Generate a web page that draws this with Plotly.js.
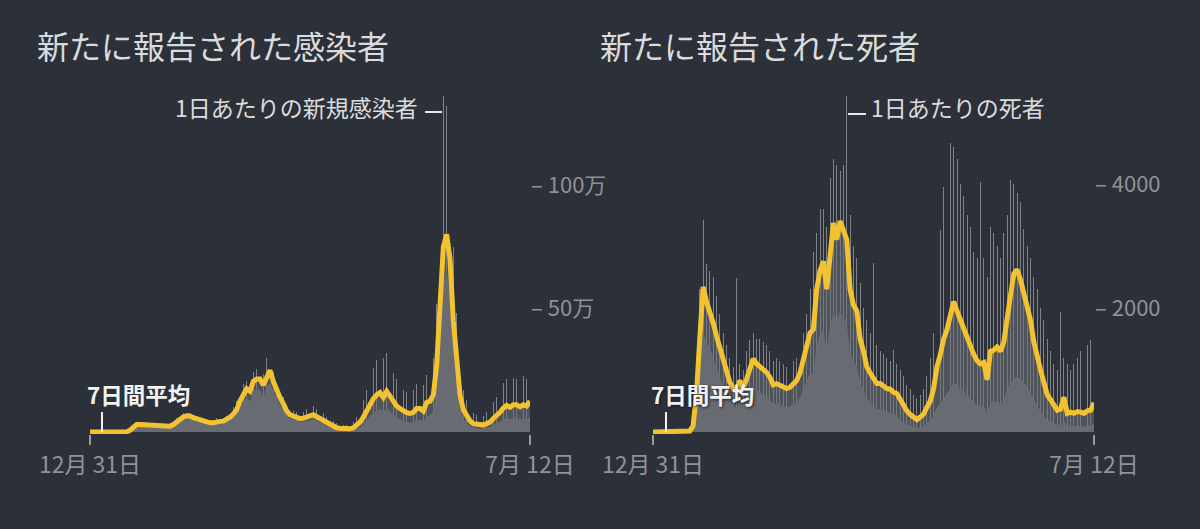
<!DOCTYPE html>
<html><head><meta charset="utf-8">
<script src="https://cdn.plot.ly/plotly-3.0.1.min.js"></script>
<style>html,body{margin:0;padding:0;background:#2c3038;}#chart{width:1200px;height:529px;}</style>
</head><body><div id="chart"></div>
<script>
// ---- data (weekly samples starting 2019-12-31, one value per week) ----
const startDate = '2019-12-31';
const endDate = '2022-07-12';
const xTickLabels = ['12月 31日', '7月 12日'];
const casesTickVals = [500, 1000];          // thousands of cases
const casesTickText = ['– 50万', '– 100万'];
const deathsTickVals = [2000, 4000];
const deathsTickText = ['– 2000', '– 4000'];

// new cases, 7-day average (thousands)
const casesAvg = [
  0,0,0,0,0,0,0,0,0,0.02,
  0.1,1,7,21,30,30,29,29,27,24,
  23,21,21,21,23,30,41,52,61,66,
  65,58,54,47,42,41,37,37,42,43,
  44,50,60,73,90,125,155,175,165,205,
  215,215,190,225,250,205,170,140,115,85,
  70,65,57,54,56,63,65,70,63,55,
  48,37,30,25,17,15,13,12,13,17,
  26,40,60,85,115,135,150,160,140,165,
  145,120,105,95,85,78,75,80,95,95,
  85,120,125,150,270,480,750,800,700,450,
  280,150,90,65,45,34,30,30,28,33,
  40,55,65,80,97,108,100,110,110,102,
  110,105,125
];
// new cases, daily spike tops (thousands)
const casesHigh = [
  0,0,0,0,0,0,0,0,0,0.1,
  0.3,2,11,30,36,37,38,36,33,30,
  29,27,26,27,31,42,55,65,77,78,
  74,68,64,56,52,50,47,48,55,55,
  58,66,80,100,125,160,195,205,210,245,
  255,250,235,300,310,245,200,165,140,110,
  90,85,80,78,82,95,100,105,95,85,
  75,60,50,45,35,32,30,28,30,40,
  60,90,130,170,230,260,290,310,300,320,
  280,240,215,200,170,160,165,170,195,200,
  190,230,240,300,520,1020,1360,1320,1020,750,
  480,280,170,130,95,75,70,70,65,80,
  95,120,140,170,200,215,205,220,215,210,
  225,215,230
];
// new cases, dense lower level of daily bars (thousands)
const casesLow = [
  0,0,0,0,0,0,0,0,0,0,
  0.05,0.8,5,17,25,25,24,24,22,20,
  19,17,17,17,19,25,34,43,51,55,
  54,48,44,38,34,33,29,30,34,35,
  36,41,49,60,74,100,125,140,125,165,
  175,170,140,180,200,160,135,110,90,65,
  55,50,44,41,42,46,48,52,46,40,
  34,26,20,16,10,9,7,6,6,8,
  12,20,32,48,65,78,88,95,80,100,
  85,70,60,52,45,40,38,42,50,50,
  42,65,68,85,180,360,600,650,550,330,
  190,95,52,36,24,17,15,15,14,17,
  21,29,34,42,52,58,52,58,57,52,
  56,52,62
];
// deaths, 7-day average
const deathsAvg = [
  0,0,0,0,0,0,0,0,0,1,
  3,15,100,600,1500,2340,2100,1950,1760,1550,
  1350,1150,950,800,700,650,830,700,850,1050,
  1180,1100,1060,1000,960,880,760,780,760,720,
  700,720,770,830,950,1150,1350,1600,1650,2300,
  2600,2750,2300,2900,3370,3100,3400,3250,3100,2300,
  2050,1950,1500,1300,1050,950,880,780,780,730,
  700,690,640,620,520,400,340,280,230,200,
  240,290,400,500,700,1050,1250,1500,1650,1900,
  2100,1950,1800,1700,1550,1400,1250,1150,1100,1120,
  840,1300,1320,1370,1300,1450,1900,2200,2550,2620,
  2450,2250,2000,1800,1450,1200,1000,800,600,520,
  420,350,370,560,300,320,300,330,320,300,
  340,350,470
];
// deaths, daily spike tops
const deathsHigh = [
  0,0,0,0,0,0,0,0,0,3,
  10,40,250,1200,2300,3420,2700,2600,2500,2200,
  1900,1600,1400,1200,1050,2480,1100,1000,1300,1480,
  1600,1500,1500,1450,1400,1300,1150,1200,1150,1100,
  1050,1100,1150,1200,1350,1600,1900,2300,2900,3200,
  3600,3600,3300,4100,4400,4300,4200,4300,5420,3500,
  3000,2800,2400,2000,1800,1600,2720,1400,1300,1250,
  1200,1150,1320,1100,1000,900,750,700,600,550,
  600,700,900,1200,1600,2300,3260,3950,3700,4660,
  4600,4400,4000,3800,3500,3300,2900,2800,4030,2800,
  2500,3300,3200,3000,2800,3200,3500,4060,4000,3850,
  3700,3270,3000,2800,2500,2300,2000,1800,1500,1300,
  1100,1000,1940,1200,1100,1000,1100,1200,1300,1200,
  1400,1480,1300
];
// deaths, dense lower level of daily bars
const deathsLow = [
  0,0,0,0,0,0,0,0,0,0,
  1,8,60,420,1050,1600,1450,1350,1200,1050,
  900,750,600,500,430,400,480,420,520,650,
  740,680,650,610,580,520,440,460,450,420,
  400,420,450,490,560,690,800,950,950,1400,
  1600,1650,1300,1700,1950,1800,1950,1850,1750,1300,
  1150,1050,800,680,540,480,430,380,370,340,
  320,310,280,260,200,150,120,100,80,70,
  80,100,140,190,280,400,460,540,600,700,
  800,760,700,660,600,540,480,440,420,420,
  300,480,480,500,460,520,700,800,850,900,
  850,800,720,640,520,420,340,260,200,170,
  140,110,120,180,90,100,90,100,95,90,
  100,100,140
];

// ---- build ----
function weekDates(n) {
  const t0 = Date.parse(startDate + 'T00:00:00Z');
  const out = [];
  for (let i = 0; i < n; i++) out.push(new Date(t0 + i * 7 * 86400000).toISOString().slice(0, 10));
  return out;
}
const BG = '#2c3038';
const YEL = '#f2c230';
const FILL = '#686b71';
const HAZE = 'rgba(110,113,119,0.55)';
const SPIKE = '#80838a';
const FONT = '"Noto Sans CJK JP", "Noto Sans", sans-serif';
const px = v => v / 1200;
const py = v => 1 - v / 529;

function panel(avg, low, high, xa, ya) {
  const d = weekDates(avg.length);
  return [
    {type: 'bar', x: d, y: high, xaxis: xa, yaxis: ya, width: 2 * 86400000,
     marker: {color: SPIKE, line: {width: 0}}, hoverinfo: 'skip'},
    {type: 'scatter', mode: 'lines', x: d, y: avg, xaxis: xa, yaxis: ya, fill: 'tozeroy',
     fillcolor: HAZE, line: {width: 0, color: HAZE}, hoverinfo: 'skip'},
    {type: 'scatter', mode: 'lines', x: d, y: low, xaxis: xa, yaxis: ya, fill: 'tozeroy',
     fillcolor: FILL, line: {width: 0, color: FILL}, hoverinfo: 'skip'},
    {type: 'scatter', mode: 'lines', x: d, y: avg, xaxis: xa, yaxis: ya,
     line: {width: 5, color: YEL}, hoverinfo: 'skip'}
  ];
}
const data = [].concat(
  panel(casesAvg, casesLow, casesHigh, 'x', 'y'),
  panel(deathsAvg, deathsLow, deathsHigh, 'x2', 'y2')
);

const xTickFont = {family: FONT, size: 23, color: '#8f9297'};
const yTickFont = {family: FONT, size: 22, color: '#8f9297'};
function xAxis(domain, anchor) {
  return {domain: domain, anchor: anchor, type: 'date', range: [startDate, endDate],
    tickmode: 'array', tickvals: [startDate, endDate], ticktext: xTickLabels,
    ticks: 'outside', ticklen: 10, tickwidth: 1.5, tickcolor: '#9a9ca0',
    showgrid: false, zeroline: false, showline: false, tickfont: xTickFont, fixedrange: true};
}
function yAxis(range, vals, text, anchor) {
  return {domain: [py(434), py(90)], anchor: anchor, side: 'right', range: range,
    tickmode: 'array', tickvals: vals, ticktext: text, ticks: '',
    showgrid: false, zeroline: false, showline: false, tickfont: yTickFont, fixedrange: true};
}
const lineCol = '#e6e6e6';
const layout = {
  width: 1200, height: 529, margin: {l: 0, r: 0, t: 0, b: 0},
  paper_bgcolor: BG, plot_bgcolor: BG, showlegend: false, bargap: 0,
  font: {family: FONT},
  xaxis: xAxis([px(90), px(530)], 'y'),
  yaxis: yAxis([-8.1, 1385], casesTickVals, casesTickText, 'x'),
  xaxis2: xAxis([px(653), px(1094)], 'y2'),
  yaxis2: yAxis([-32.3, 5512], deathsTickVals, deathsTickText, 'x2'),
  annotations: [
    {xref: 'paper', yref: 'paper', x: px(35), y: py(45), xanchor: 'left', yanchor: 'middle',
     text: '新たに報告された感染者', showarrow: false, font: {family: FONT, size: 32, color: '#dadbdd'}},
    {xref: 'paper', yref: 'paper', x: px(598), y: py(45), xanchor: 'left', yanchor: 'middle',
     text: '新たに報告された死者', showarrow: false, font: {family: FONT, size: 32, color: '#dadbdd'}},
    {xref: 'paper', yref: 'paper', x: px(420), y: py(107), xanchor: 'right', yanchor: 'middle',
     text: '1日あたりの新規感染者', showarrow: false, font: {family: FONT, size: 23, color: '#dcdcdc'}},
    {xref: 'paper', yref: 'paper', x: px(869), y: py(107), xanchor: 'left', yanchor: 'middle',
     text: '1日あたりの死者', showarrow: false, font: {family: FONT, size: 23, color: '#dcdcdc'}},
    {xref: 'paper', yref: 'paper', x: px(85), y: py(394), xanchor: 'left', yanchor: 'middle',
     text: '<b>7日間平均</b>', showarrow: false, font: {family: FONT, size: 22.5, color: '#f2f2f2'}},
    {xref: 'paper', yref: 'paper', x: px(649), y: py(394), xanchor: 'left', yanchor: 'middle',
     text: '<b>7日間平均</b>', showarrow: false,
     font: {family: FONT, size: 22.5, color: '#f2f2f2', shadow: '1px 1px 3px rgba(25,28,34,0.95)'}}
  ],
  shapes: [
    {type: 'line', xref: 'paper', yref: 'paper', x0: px(425), x1: px(442), y0: py(112), y1: py(112),
     line: {color: lineCol, width: 2}},
    {type: 'line', xref: 'paper', yref: 'paper', x0: px(848), x1: px(866), y0: py(114), y1: py(114),
     line: {color: lineCol, width: 2}},
    {type: 'line', xref: 'paper', yref: 'paper', x0: px(102), x1: px(102), y0: py(412), y1: py(432),
     line: {color: '#f2f2f2', width: 2}},
    {type: 'line', xref: 'paper', yref: 'paper', x0: px(666), x1: px(666), y0: py(412), y1: py(432),
     line: {color: '#f2f2f2', width: 2}}
  ]
};
Plotly.newPlot('chart', data, layout, {staticPlot: true, displayModeBar: false});
</script>
</body></html>
